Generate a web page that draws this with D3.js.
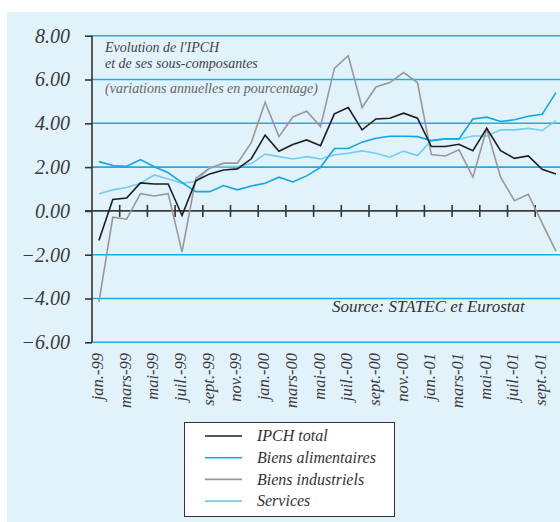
<!DOCTYPE html>
<html><head><meta charset="utf-8">
<script src="https://cdn.jsdelivr.net/npm/d3@7"></script>
<style>html,body{margin:0;padding:0;background:#fff;}svg{display:block;}</style>
</head><body>
<svg id="c" width="560" height="522"></svg>
<script>
const months = ["jan.-99","févr.-99","mars-99","avr.-99","mai-99","juin-99","juil.-99","août-99","sept.-99","oct.-99","nov.-99","déc.-99",
"jan.-00","févr.-00","mars-00","avr.-00","mai-00","juin-00","juil.-00","août-00","sept.-00","oct.-00","nov.-00","déc.-00",
"jan.-01","févr.-01","mars-01","avr.-01","mai-01","juin-01","juil.-01","août-01","sept.-01","oct.-01"];
const tickLabels = ["jan.-99","mars-99","mai-99","juil.-99","sept.-99","nov.-99","jan.-00","mars-00","mai-00","juil.-00","sept.-00","nov.-00","jan.-01","mars-01","mai-01","juil.-01","sept.-01"];
const yTicks = [8,6,4,2,0,-2,-4,-6];
const ipchTotal = [-1.35,0.52,0.59,1.28,1.23,1.23,-0.21,1.38,1.69,1.87,1.92,2.38,3.46,2.72,3.03,3.24,2.98,4.43,4.72,3.70,4.20,4.23,4.46,4.23,2.94,2.94,3.04,2.75,3.77,2.75,2.40,2.51,1.90,1.69];
const biensAlimentaires = [2.25,2.07,2.04,2.34,2.02,1.74,1.29,0.88,0.88,1.16,0.96,1.14,1.26,1.54,1.32,1.60,1.99,2.85,2.85,3.14,3.32,3.41,3.41,3.39,3.21,3.29,3.29,4.20,4.28,4.08,4.16,4.32,4.41,5.40];
const biensIndustriels = [-4.15,-0.29,-0.38,0.79,0.68,0.79,-1.87,1.49,1.95,2.18,2.18,3.12,4.96,3.39,4.29,4.55,3.85,6.51,7.09,4.72,5.66,5.86,6.32,5.86,2.57,2.51,2.79,1.54,3.74,1.54,0.47,0.76,-0.56,-1.84];
const services = [0.78,0.96,1.07,1.26,1.64,1.46,1.26,1.34,1.99,2.02,2.02,2.16,2.59,2.48,2.37,2.48,2.37,2.56,2.63,2.74,2.63,2.45,2.73,2.53,3.21,3.29,3.27,3.42,3.42,3.70,3.70,3.77,3.67,4.12];
const seriesNames = ["IPCH total","Biens alimentaires","Biens industriels","Services"];
const seriesColors = ["#1e1e1e","#12a6e4","#989898","#72cdf2"];
const seriesData = [ipchTotal,biensAlimentaires,biensIndustriels,services];

const svg = d3.select("#c");
const FONT = "Liberation Serif";
svg.append("rect").attr("x",7).attr("y",12).attr("width",560).attr("height",520).attr("fill","#e1f2fa");

const x = d3.scaleBand().domain(months).range([92, 92 + 34*13.85]).padding(0);
const cx = m => x(m) + x.bandwidth()/2;
const y = d3.scaleLinear().domain([-6,8]).range([342.3,35.7]);

// grid lines
svg.append("g").selectAll("line").data(yTicks.filter(v=>v!==0)).join("line")
  .attr("x1",92).attr("x2",560).attr("y1",d=>y(d)).attr("y2",d=>y(d))
  .attr("stroke","#1aaee8").attr("stroke-width",1.6);

// y axis
const yAxis = d3.axisLeft(y).tickValues(yTicks).tickSize(7).tickFormat(d3.format(".2f"));
const gy = svg.append("g").attr("transform","translate(92,0)").call(yAxis);
gy.attr("font-family",FONT).attr("font-size",20);
gy.select(".domain").attr("stroke","#333").attr("stroke-width",1.6).attr("d",`M-0,${y(8)}V${y(-6)}`);
gy.selectAll(".tick line").attr("stroke","#333").attr("stroke-width",1.6);
gy.selectAll(".tick text").attr("x",-22).attr("dy","0.32em").attr("font-family",FONT).attr("font-style","italic")
  .attr("font-size",20).attr("fill","#3a3a3a");

// zero line with ticks at band boundaries
svg.append("line").attr("x1",85).attr("x2",560).attr("y1",y(0)).attr("y2",y(0)).attr("stroke","#3c3c3c").attr("stroke-width",1.6);
const bound = months.filter((m,i)=>i>0 && i%2===0);
svg.append("g").selectAll("line").data(bound).join("line")
  .attr("x1",d=>x(d)).attr("x2",d=>x(d)).attr("y1",y(0)-6).attr("y2",y(0)+6)
  .attr("stroke","#333").attr("stroke-width",1.6);

// x labels
const labMonths = months.filter(m=>tickLabels.includes(m));
svg.append("g").selectAll("text").data(labMonths).join("text")
  .attr("transform",d=>`translate(${cx(d)+4},353) rotate(-90)`)
  .attr("text-anchor","end").attr("font-family",FONT).attr("font-style","italic")
  .attr("font-size",16.5).attr("fill","#3a3a3a").text(d=>d);

// lines
const line = d3.line().x((d,i)=>cx(months[i])).y(d=>y(d));
[3,2,1,0].forEach(k=>{
  svg.append("path").attr("d",line(seriesData[k])).attr("fill","none")
    .attr("stroke",seriesColors[k]).attr("stroke-width",1.6);
});

// title
const tg = svg.append("g").attr("font-family",FONT).attr("font-style","italic").attr("font-size",14);
tg.append("text").attr("x",105).attr("y",52).attr("fill","#444").text("Evolution de l'IPCH");
tg.append("text").attr("x",105).attr("y",68).attr("fill","#444").text("et de ses sous-composantes");
tg.append("text").attr("x",105).attr("y",93).attr("fill","#666").text("(variations annuelles en pourcentage)");

svg.append("text").attr("x",332).attr("y",312).attr("font-family",FONT).attr("font-style","italic")
  .attr("font-size",17).attr("fill","#333").text("Source: STATEC et Eurostat");

// legend
svg.append("rect").attr("x",184.5).attr("y",422.5).attr("width",210).attr("height",94)
  .attr("fill","#fff").attr("stroke","#333").attr("stroke-width",1);
const lg = svg.append("g").selectAll("g").data(seriesNames).join("g")
  .attr("transform",(d,i)=>`translate(0,${436 + i*21.7})`);
lg.append("line").attr("x1",205).attr("x2",242).attr("stroke",(d,i)=>seriesColors[i]).attr("stroke-width",1.6);
lg.append("text").attr("x",257).attr("dy","0.32em").attr("font-family",FONT).attr("font-style","italic")
  .attr("font-size",16).attr("fill","#333").text(d=>d);
</script>
</body></html>
